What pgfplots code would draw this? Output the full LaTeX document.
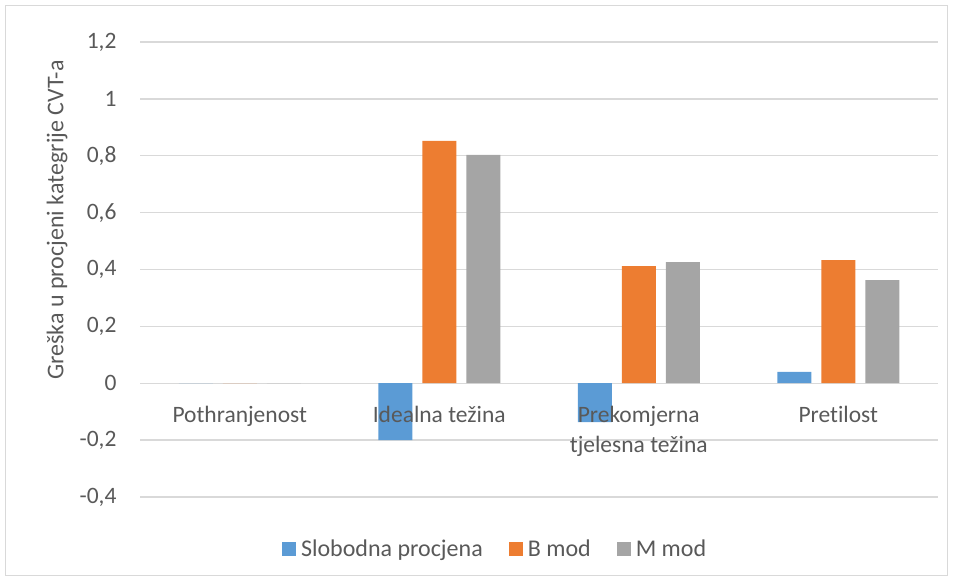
\documentclass[border=0pt]{standalone}
\usepackage{pgfplots}
\pgfplotsset{compat=1.18}
\usepackage{fontspec}
\setmainfont{Carlito}[Ligatures=NoCommon]
\definecolor{sblue}{HTML}{5B9BD5}
\definecolor{sorange}{HTML}{ED7D31}
\definecolor{sgray}{HTML}{A5A5A5}
\definecolor{tc}{HTML}{595959}
\definecolor{gridc}{HTML}{D9D9D9}
\begin{document}
\begin{tikzpicture}[x=1pt,y=1pt]
\path (0,0) rectangle (953,581);
\draw[gridc, line width=1pt] (5.5,5.5) rectangle (947.5,575.5);
\begin{axis}[
  at={(140pt,84pt)}, anchor=south west,
  scale only axis, width=798pt, height=455pt,
  ymin=-0.4, ymax=1.2,
  ytick={-0.4,-0.2,0,0.2,0.4,0.6,0.8,1,1.2},
  yticklabels={{-0,4},{-0,2},0,{0,2},{0,4},{0,6},{0,8},1,{1,2}},
  xmin=-0.5, xmax=3.5,
  xtick={0,1,2,3},
  xticklabels={},
  axis line style={draw=none},
  major tick length=0pt,
  ymajorgrids, grid style={gridc, line width=1.3pt},
  ybar=10pt, bar width=34pt,
  tick label style={font=\fontsize{23.5}{30}\selectfont, text=tc},
  yticklabel style={anchor=east, xshift=-20pt},
  legend style={at={(rel axis cs:0.445,0)}, anchor=center, yshift=-52pt, draw=none,
    font=\fontsize{24}{28}\selectfont, text=tc,
    /tikz/every odd column/.append style={column sep=3pt},
    /tikz/every even column/.append style={column sep=24pt}},
  legend columns=3,
  legend image code/.code={\fill[#1,draw=none] (0pt,-7pt) rectangle (14pt,7pt);},
]
\addplot[fill=sblue, draw=none] coordinates {(0,0) (1,-0.2) (2,-0.137) (3,0.04)};
\addplot[fill=sorange, draw=none] coordinates {(0,0) (1,0.852) (2,0.412) (3,0.433)};
\addplot[fill=sgray, draw=none] coordinates {(0,0) (1,0.803) (2,0.426) (3,0.363)};
\legend{Slobodna procjena, B mod, M mod}
\begin{scope}[every node/.style={anchor=north, align=center, yshift=-19pt, text=tc, font=\fontsize{23.5}{30}\selectfont}]
\node at (axis cs:0,0) {Pothranjenost};
\node at (axis cs:1,0) {Idealna težina};
\node at (axis cs:2,0) {Prekomjerna\\tjelesna težina};
\node at (axis cs:3,0) {Pretilost};
\end{scope}
\end{axis}
\node[rotate=90, text=tc, font=\fontsize{24}{28}\selectfont] at (57,361) {Greška u procjeni kategrije CVT-a};
\end{tikzpicture}
\end{document}
